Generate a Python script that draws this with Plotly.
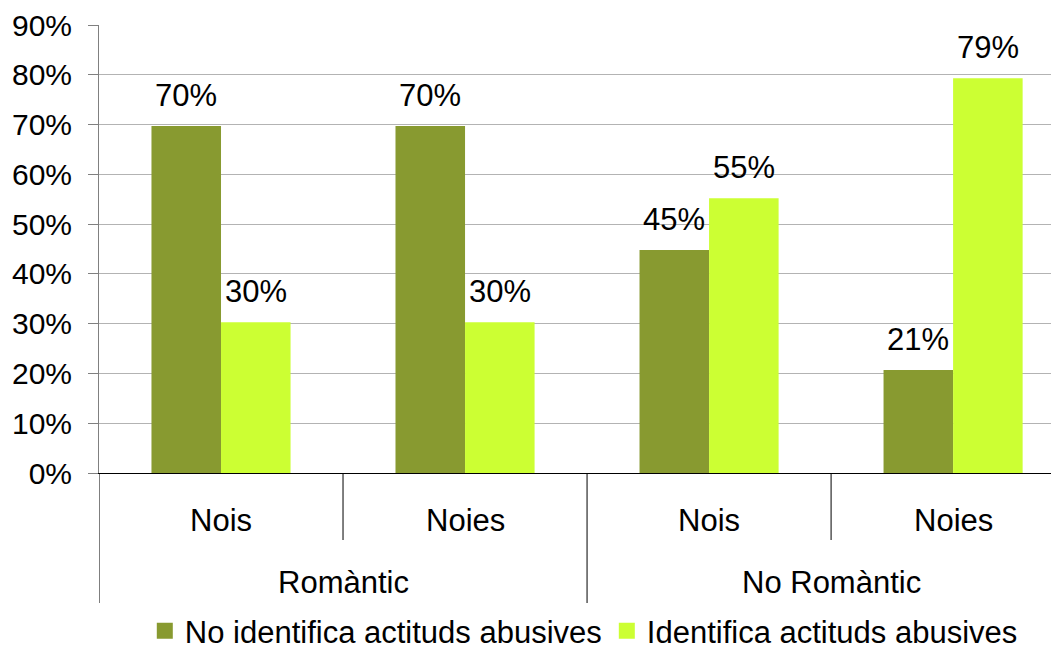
import plotly.graph_objects as go

groups = ["Romàntic", "Romàntic", "No Romàntic", "No Romàntic"]
subcats = ["Nois", "Noies", "Nois", "Noies"]
series_names = ["No identifica actituds abusives", "Identifica actituds abusives"]
no_identifica = [0.697, 0.697, 0.448, 0.207]
identifica = [0.303, 0.303, 0.552, 0.793]
colors = ["#889A30", "#CCFF33"]
y_ticks = [0, 0.1, 0.2, 0.3, 0.4, 0.5, 0.6, 0.7, 0.8, 0.9]

FONT = "Arial, Liberation Sans, sans-serif"
FS = 31
TFS = 30
x = list(range(len(subcats)))
bargap = 0.43

fig = go.Figure()
for name, vals, col in zip(series_names, [no_identifica, identifica], colors):
    fig.add_trace(go.Bar(x=x, y=vals, name=name, showlegend=False,
                         marker=dict(color=col, line=dict(width=0))))
# legend entries with large square swatches
for name, col in zip(series_names, colors):
    fig.add_trace(go.Scatter(x=[None], y=[None], mode="markers", name=name,
                             marker=dict(symbol="square", size=20, color=col)))

anns = []
# data labels
half = (1 - bargap) / 4
for k, vals in enumerate([no_identifica, identifica]):
    off = -half if k == 0 else half
    for i, v in enumerate(vals):
        anns.append(dict(x=i + off, y=v, xref="x", yref="y", text=f"{round(v*100):d}%",
                         showarrow=False, yanchor="bottom", yshift=11,
                         font=dict(size=FS, color="#000000", family=FONT)))

# category labels
for i, s in enumerate(subcats):
    anns.append(dict(x=i, y=0, xref="x", yref="paper", text=s, showarrow=False,
                     yanchor="middle", yshift=-47,
                     font=dict(size=FS, color="#000000", family=FONT)))
uniq = []
for g in groups:
    if g not in uniq:
        uniq.append(g)
for g in uniq:
    idx = [i for i, gg in enumerate(groups) if gg == g]
    anns.append(dict(x=sum(idx) / len(idx), y=0, xref="x", yref="paper", text=g,
                     showarrow=False, yanchor="middle", yshift=-109,
                     font=dict(size=FS, color="#000000", family=FONT)))
fig.update_layout(annotations=anns)

W, H = 1051, 662
ML, MT, MB, MR = 91, 17, 197, 0
plot_h = H - MT - MB
shapes = []
for i in range(len(subcats) + 1):
    xb = i - 0.5
    if i == 0 or i == len(subcats) or groups[i] != groups[i - 1]:
        ylen = 130
    else:
        ylen = 67
    shapes.append(dict(type="line", xref="x", yref="paper", x0=xb, x1=xb, y0=0, y1=-ylen / plot_h,
                       line=dict(color="#000000", width=1)))
fig.update_layout(shapes=shapes)

fig.update_layout(
    width=W, height=H,
    margin=dict(l=ML, r=MR, t=MT, b=MB),
    paper_bgcolor="white", plot_bgcolor="white",
    barmode="group", bargap=bargap, bargroupgap=0,
    font=dict(family=FONT, size=FS, color="#000000"),
    showlegend=True,
    legend=dict(orientation="h", x=0.505, xanchor="center", y=-158 / plot_h, yanchor="middle",
                font=dict(size=FS, family=FONT, color="#000000"),
                itemwidth=30, tracegroupgap=0, itemsizing="trace"),
    xaxis=dict(range=[-0.5, 3.434], showticklabels=False, showgrid=False, zeroline=False,
               showline=True, linecolor="#000000", linewidth=1, ticks=""),
    yaxis=dict(range=[0, 0.9], tickvals=y_ticks, tickformat=".0%", showgrid=True,
               gridcolor="#B3B3B3", gridwidth=1, zeroline=False, showline=True,
               linecolor="#808080", linewidth=1, ticks="outside", ticklen=10,
               tickcolor="#808080", ticklabelstandoff=10,
               tickfont=dict(size=TFS, family=FONT, color="#000000")),
)

fig.write_html("out.html")
